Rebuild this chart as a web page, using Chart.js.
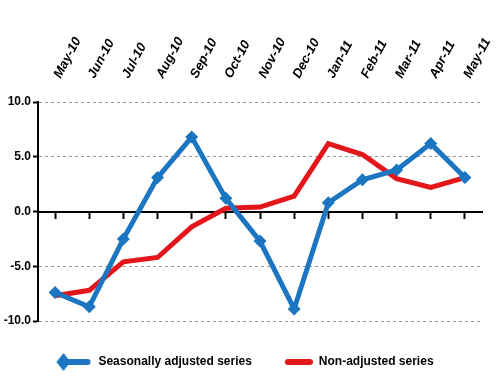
<!DOCTYPE html>
<html>
<head>
<meta charset="utf-8">
<script src="https://cdn.jsdelivr.net/npm/chart.js@4.4.0/dist/chart.umd.min.js"></script>
<style>
  html, body { margin: 0; padding: 0; background: #fff; }
</style>
</head>
<body>
<canvas id="grafico" width="500" height="384"></canvas>
<script>
// Datos
const meses = ["May-10", "Jun-10", "Jul-10", "Aug-10", "Sep-10", "Oct-10", "Nov-10",
  "Dec-10", "Jan-11", "Feb-11", "Mar-11", "Apr-11", "May-11"];
const ajustada = [-7.4, -8.7, -2.5, 3.1, 6.8, 1.2, -2.7, -8.9, 0.8, 2.9, 3.8, 6.2, 3.1];
const sinAjustar = [-7.7, -7.2, -4.6, -4.2, -1.4, 0.3, 0.4, 1.4, 6.2, 5.2, 3.0, 2.2, 3.1];
const nombres = ["Seasonally adjusted series", "Non-adjusted series"];
const yMin = -10;
const yMax = 10;
const yPaso = 5;

const AZUL = "#1b75c0";
const ROJO = "#e3161b";
const fuente = "'Liberation Sans', Arial, sans-serif";

// Iconos de la leyenda
function iconoLeyenda(color, conRombo) {
  const c = document.createElement("canvas");
  c.width = 44;
  c.height = 18;
  const g = c.getContext("2d");
  g.strokeStyle = color;
  g.lineWidth = 6;
  g.lineCap = "round";
  g.beginPath();
  g.moveTo(conRombo ? 18 : 19, 9);
  g.lineTo(conRombo ? 39 : 41, 9);
  g.stroke();
  if (conRombo) {
    g.fillStyle = color;
    g.beginPath();
    g.moveTo(15, 0);
    g.lineTo(22, 9);
    g.lineTo(15, 18);
    g.lineTo(8, 9);
    g.closePath();
    g.fill();
  }
  return c;
}
const iconos = [iconoLeyenda(AZUL, true), iconoLeyenda(ROJO, false)];

const ctx = document.getElementById("grafico");
const miGrafico = new Chart(ctx, {
  type: "line",
  data: {
    labels: meses,
    datasets: [
      {
        label: nombres[0],
        data: ajustada,
        borderColor: AZUL,
        backgroundColor: AZUL,
        borderWidth: 5,
        tension: 0,
        pointStyle: "rectRot",
        pointRadius: 6.5,
        pointBorderWidth: 0,
      },
      {
        label: nombres[1],
        data: sinAjustar,
        borderColor: ROJO,
        backgroundColor: ROJO,
        borderWidth: 5,
        tension: 0,
        pointRadius: 0,
      },
    ],
  },
  options: {
    responsive: false,
    animation: false,
    layout: { padding: { left: 0, right: 18, top: 0, bottom: 6 } },
    plugins: {
      tooltip: { enabled: false },
      legend: {
        position: "bottom",
        title: {
          display: true,
          text: "",
          font: { size: 10 },
          padding: { top: 3, bottom: 3 },
        },
        labels: {
          usePointStyle: true,
          pointStyleWidth: 44,
          padding: 17,
          color: "#000",
          font: { family: fuente, size: 12, weight: "bold" },
          generateLabels: (chart) =>
            chart.data.datasets.map((ds, i) => ({
              text: ds.label,
              fontColor: "#000",
              pointStyle: iconos[i],
              fillStyle: "transparent",
              strokeStyle: "transparent",
              lineWidth: 0,
              datasetIndex: i,
              hidden: false,
            })),
        },
      },
    },
    scales: {
      x: {
        position: "top",
        offset: true,
        grid: { display: false },
        border: { display: false },
        ticks: {
          color: "#000",
          minRotation: 62,
          maxRotation: 62,
          padding: 13,
          labelOffset: 16,
          font: { family: fuente, size: 13, weight: "bold", style: "italic" },
        },
        afterFit: (scale) => {
          scale.height = 102;
          scale.paddingLeft = 0;
          scale.paddingRight = 0;
        },
      },
      ejeCero: {
        axis: "x",
        type: "category",
        labels: meses,
        position: { y: 0 },
        offset: true,
        ticks: { display: false },
        grid: {
          drawOnChartArea: false,
          tickLength: 6,
          tickWidth: 2,
          tickColor: "#000",
        },
        border: { color: "#000", width: 2 },
      },
      y: {
        min: yMin,
        max: yMax,
        ticks: {
          stepSize: yPaso,
          color: "#000",
          padding: 2,
          font: { family: fuente, size: 12, weight: "bold" },
          callback: (v) => v.toFixed(1),
        },
        grid: {
          color: "#9a9a9a",
          lineWidth: 1,
          tickLength: 5,
          tickColor: "#000",
          tickWidth: 2,
        },
        border: { color: "#000", width: 2, dash: [3, 3] },
        afterFit: (scale) => { scale.width = 38; },
      },
    },
  },
});
</script>
</body>
</html>
